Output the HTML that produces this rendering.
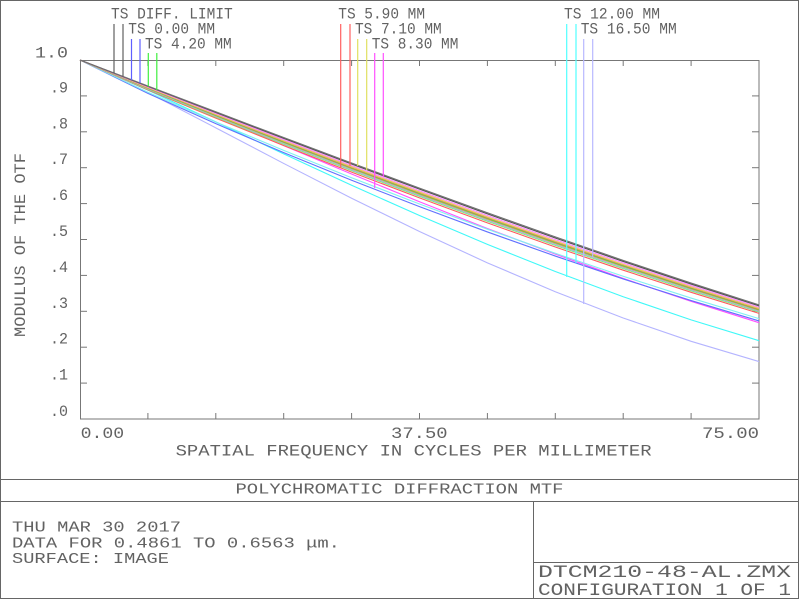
<!DOCTYPE html>
<html>
<head>
<meta charset="utf-8">
<style>
  html,body{margin:0;padding:0;background:#fff;}
  svg{display:block;}
  text{font-family:"Liberation Mono","DejaVu Sans Mono",monospace;fill:#626262;}
</style>
</head>
<body>
<svg width="800" height="600" viewBox="0 0 800 600" xmlns="http://www.w3.org/2000/svg">
  <rect x="0" y="0" width="800" height="600" fill="#fff"/>
  <!-- outer border -->
  <rect x="0.5" y="0.5" width="798" height="598" fill="none" stroke="#666" stroke-width="1"/>
  <!-- footer lines -->
  <line x1="0" y1="479.5" x2="799" y2="479.5" stroke="#666" stroke-width="1"/>
  <line x1="0" y1="501.5" x2="799" y2="501.5" stroke="#666" stroke-width="1"/>
  <line x1="533.5" y1="501.5" x2="533.5" y2="599" stroke="#666" stroke-width="1"/>
  <line x1="533.5" y1="562.5" x2="799" y2="562.5" stroke="#666" stroke-width="1"/>

  <!-- plot frame -->
  <rect x="80.5" y="60.5" width="678.5" height="358.5" fill="none" stroke="#777" stroke-width="1"/>
  <g stroke="#777" stroke-width="1">
    <line x1="147.9" y1="60" x2="147.9" y2="66"/>
    <line x1="215.8" y1="60" x2="215.8" y2="66"/>
    <line x1="283.7" y1="60" x2="283.7" y2="66"/>
    <line x1="351.6" y1="60" x2="351.6" y2="66"/>
    <line x1="419.5" y1="60" x2="419.5" y2="66"/>
    <line x1="487.4" y1="60" x2="487.4" y2="66"/>
    <line x1="555.3" y1="60" x2="555.3" y2="66"/>
    <line x1="623.2" y1="60" x2="623.2" y2="66"/>
    <line x1="691.1" y1="60" x2="691.1" y2="66"/>
    <line x1="147.9" y1="419" x2="147.9" y2="413"/>
    <line x1="215.8" y1="419" x2="215.8" y2="413"/>
    <line x1="283.7" y1="419" x2="283.7" y2="413"/>
    <line x1="351.6" y1="419" x2="351.6" y2="413"/>
    <line x1="419.5" y1="419" x2="419.5" y2="413"/>
    <line x1="487.4" y1="419" x2="487.4" y2="413"/>
    <line x1="555.3" y1="419" x2="555.3" y2="413"/>
    <line x1="623.2" y1="419" x2="623.2" y2="413"/>
    <line x1="691.1" y1="419" x2="691.1" y2="413"/>
    <line x1="80" y1="383.1" x2="87" y2="383.1"/>
    <line x1="80" y1="347.2" x2="87" y2="347.2"/>
    <line x1="80" y1="311.3" x2="87" y2="311.3"/>
    <line x1="80" y1="275.4" x2="87" y2="275.4"/>
    <line x1="80" y1="239.5" x2="87" y2="239.5"/>
    <line x1="80" y1="203.6" x2="87" y2="203.6"/>
    <line x1="80" y1="167.7" x2="87" y2="167.7"/>
    <line x1="80" y1="131.8" x2="87" y2="131.8"/>
    <line x1="80" y1="95.9" x2="87" y2="95.9"/>
    <line x1="759" y1="383.1" x2="752" y2="383.1"/>
    <line x1="759" y1="347.2" x2="752" y2="347.2"/>
    <line x1="759" y1="311.3" x2="752" y2="311.3"/>
    <line x1="759" y1="275.4" x2="752" y2="275.4"/>
    <line x1="759" y1="239.5" x2="752" y2="239.5"/>
    <line x1="759" y1="203.6" x2="752" y2="203.6"/>
    <line x1="759" y1="167.7" x2="752" y2="167.7"/>
    <line x1="759" y1="131.8" x2="752" y2="131.8"/>
    <line x1="759" y1="95.9" x2="752" y2="95.9"/>
  </g>

  <!-- curves -->
  <g fill="none" stroke-width="1.1">
    <polyline stroke="#b4b4ff" points="80,60 147.9,92.54 215.8,127.83 283.7,163.43 351.6,198.22 419.5,231.52 487.4,262.83 555.3,291.75 623.2,317.98 691.1,341.3 759,361.56"/>
    <polyline stroke="#40f8f8" points="80,60 147.9,90.11 215.8,121.92 283.7,153.89 351.6,185.25 419.5,215.52 487.4,244.38 555.3,271.53 623.2,296.75 691.1,319.85 759,340.7"/>
    <polyline stroke="#ff50ff" points="80,60 147.9,88.02 215.8,116.82 283.7,145.65 351.6,174.04 419.5,201.7 487.4,228.45 555.3,254.08 623.2,278.42 691.1,301.33 759,322.7"/>
    <polyline stroke="#6070ff" points="80,60 147.9,93.35 215.8,123.67 283.7,152.58 351.6,180.22 419.5,206.66 487.4,231.94 555.3,256.05 623.2,278.94 691.1,300.57 759,320.92"/>
    <polyline stroke="#80f0f0" points="80,60 147.9,92.29 215.8,121.97 283.7,150.43 351.6,177.76 419.5,204 487.4,229.2 555.3,253.31 623.2,276.28 691.1,298.07 759,318.64"/>
    <polyline stroke="#ff5a5a" points="80,60 147.9,89.87 215.8,118.07 283.7,145.49 351.6,172.1 419.5,197.9 487.4,222.89 555.3,247.01 623.2,270.18 691.1,292.33 759,313.39"/>
    <polyline stroke="#80ee80" points="80,60 147.9,89.23 215.8,117.06 283.7,144.2 351.6,170.62 419.5,196.31 487.4,221.25 555.3,245.37 623.2,268.59 691.1,290.83 759,312.02"/>
    <polyline stroke="#a8a8f0" points="80,60 147.9,88.78 215.8,116.33 283.7,143.29 351.6,169.58 419.5,195.18 487.4,220.08 555.3,244.21 623.2,267.46 691.1,289.76 759,311.05"/>
    <polyline stroke="#d0b040" points="80,60 147.9,88.39 215.8,115.7 283.7,142.48 351.6,168.66 419.5,194.19 487.4,219.05 555.3,243.18 623.2,266.46 691.1,288.83 759,310.2"/>
    <polyline stroke="#40dd40" points="80,60 147.9,88.07 215.8,115.19 283.7,141.84 351.6,167.92 419.5,193.39 487.4,218.23 555.3,242.36 623.2,265.67 691.1,288.08 759,309.51"/>
    <polyline stroke="#ff7070" points="80,60 147.9,87.81 215.8,114.77 283.7,141.3 351.6,167.3 419.5,192.73 487.4,217.55 555.3,241.67 623.2,265 691.1,287.45 759,308.94"/>
    <polyline stroke="#e0d850" points="80,60 147.9,87.54 215.8,114.34 283.7,140.76 351.6,166.69 419.5,192.07 487.4,216.86 555.3,240.99 623.2,264.34 691.1,286.83 759,308.37"/>
    <polyline stroke="#ff80ff" points="80,60 147.9,87.02 215.8,113.5 283.7,139.69 351.6,165.46 419.5,190.74 487.4,215.49 555.3,239.62 623.2,263.01 691.1,285.58 759,307.23"/>
    <polyline stroke="#505050" points="80,60 147.9,86.38 215.8,112.48 283.7,138.4 351.6,163.98 419.5,189.15 487.4,213.85 555.3,237.98 623.2,261.42 691.1,284.08 759,305.86"/>
    <polyline stroke="#707070" points="80,60 147.9,85.96 215.8,111.8 283.7,137.54 351.6,163 419.5,188.09 487.4,212.75 555.3,236.88 623.2,260.36 691.1,283.08 759,304.95"/>
  </g>

  <!-- marker lines -->
  <g stroke-width="1.2">
    <line x1="114" y1="24" x2="114" y2="73" stroke="#606060"/>
    <line x1="123" y1="24" x2="123" y2="76.5" stroke="#606060"/>
    <line x1="131.5" y1="39" x2="131.5" y2="80" stroke="#6060ff"/>
    <line x1="140" y1="39" x2="140" y2="83" stroke="#6060ff"/>
    <line x1="148.3" y1="53" x2="148.3" y2="86.5" stroke="#40ee40"/>
    <line x1="156.8" y1="53" x2="156.8" y2="90" stroke="#40ee40"/>

    <line x1="340.7" y1="24" x2="340.7" y2="168" stroke="#ff6060"/>
    <line x1="350" y1="24" x2="350" y2="166" stroke="#ff6060"/>
    <line x1="357.7" y1="39" x2="357.7" y2="166" stroke="#e0e060"/>
    <line x1="366.7" y1="39" x2="366.7" y2="170" stroke="#e0e060"/>
    <line x1="374.7" y1="53" x2="374.7" y2="188" stroke="#ff50ff"/>
    <line x1="383.3" y1="53" x2="383.3" y2="177" stroke="#ff50ff"/>

    <line x1="566.7" y1="24" x2="566.7" y2="277" stroke="#50ffff"/>
    <line x1="576" y1="24" x2="576" y2="263" stroke="#50ffff"/>
    <line x1="583.7" y1="39" x2="583.7" y2="304" stroke="#b8b8ff"/>
    <line x1="592.7" y1="39" x2="592.7" y2="257" stroke="#b8b8ff"/>
  </g>

  <!-- top labels -->
  <g font-size="16">
    <text x="111" y="18.3" textLength="121.7" lengthAdjust="spacingAndGlyphs">TS DIFF. LIMIT</text>
    <text x="128.3" y="33.3" textLength="86.7" lengthAdjust="spacingAndGlyphs">TS 0.00 MM</text>
    <text x="145" y="48.3" textLength="86.7" lengthAdjust="spacingAndGlyphs">TS 4.20 MM</text>
    <text x="338.3" y="18.3" textLength="86.7" lengthAdjust="spacingAndGlyphs">TS 5.90 MM</text>
    <text x="355" y="33.3" textLength="86.7" lengthAdjust="spacingAndGlyphs">TS 7.10 MM</text>
    <text x="371.7" y="48.3" textLength="86.7" lengthAdjust="spacingAndGlyphs">TS 8.30 MM</text>
    <text x="564" y="18.3" textLength="96" lengthAdjust="spacingAndGlyphs">TS 12.00 MM</text>
    <text x="580.7" y="33.3" textLength="96" lengthAdjust="spacingAndGlyphs">TS 16.50 MM</text>
  </g>

  <!-- y tick labels -->
  <g font-size="15.5">
    <text x="35" y="57.3" textLength="33" lengthAdjust="spacingAndGlyphs">1.0</text>
    <text x="50" y="92.4" textLength="18" lengthAdjust="spacingAndGlyphs">.9</text>
    <text x="50" y="128.3" textLength="18" lengthAdjust="spacingAndGlyphs">.8</text>
    <text x="50" y="164.2" textLength="18" lengthAdjust="spacingAndGlyphs">.7</text>
    <text x="50" y="200.1" textLength="18" lengthAdjust="spacingAndGlyphs">.6</text>
    <text x="50" y="236" textLength="18" lengthAdjust="spacingAndGlyphs">.5</text>
    <text x="50" y="271.9" textLength="18" lengthAdjust="spacingAndGlyphs">.4</text>
    <text x="50" y="307.8" textLength="18" lengthAdjust="spacingAndGlyphs">.3</text>
    <text x="50" y="343.7" textLength="18" lengthAdjust="spacingAndGlyphs">.2</text>
    <text x="50" y="379.6" textLength="18" lengthAdjust="spacingAndGlyphs">.1</text>
    <text x="50" y="415.8" textLength="18" lengthAdjust="spacingAndGlyphs">.0</text>
  </g>

  <!-- y axis title -->
  <text font-size="15.5" transform="translate(25,337) rotate(-90)" x="0" y="0" textLength="184" lengthAdjust="spacingAndGlyphs">MODULUS OF THE OTF</text>

  <!-- x tick labels -->
  <g font-size="15.5">
    <text x="80.6" y="438" textLength="43.6" lengthAdjust="spacingAndGlyphs">0.00</text>
    <text x="391" y="438" textLength="56.6" lengthAdjust="spacingAndGlyphs">37.50</text>
    <text x="702" y="438" textLength="57" lengthAdjust="spacingAndGlyphs">75.00</text>
    <text x="175.6" y="455.5" textLength="476" lengthAdjust="spacingAndGlyphs">SPATIAL FREQUENCY IN CYCLES PER MILLIMETER</text>
  </g>

  <!-- footer -->
  <g font-size="15">
    <text x="235.5" y="493.3" textLength="328" lengthAdjust="spacingAndGlyphs">POLYCHROMATIC DIFFRACTION MTF</text>
    <text x="12" y="531.7" textLength="169" lengthAdjust="spacingAndGlyphs">THU MAR 30 2017</text>
    <text x="12" y="547.3" textLength="328" lengthAdjust="spacingAndGlyphs">DATA FOR 0.4861 TO 0.6563 μm.</text>
    <text x="12" y="563" textLength="157" lengthAdjust="spacingAndGlyphs">SURFACE: IMAGE</text>
  </g>
  <g font-size="17.5">
    <text x="538" y="577" textLength="253" lengthAdjust="spacingAndGlyphs">DTCM210-48-AL.ZMX</text>
    <text x="538" y="595" textLength="253" lengthAdjust="spacingAndGlyphs">CONFIGURATION 1 OF 1</text>
  </g>
</svg>
</body>
</html>
